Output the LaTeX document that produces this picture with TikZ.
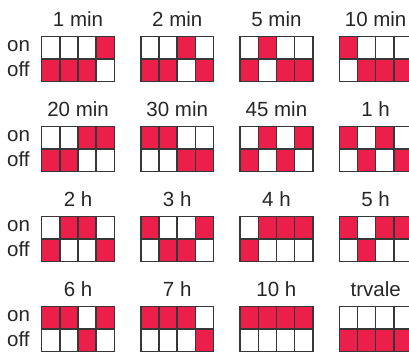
\documentclass[tikz,border=0pt]{standalone}
\usepackage{fontspec}
\setmainfont{Liberation Sans}
\definecolor{sw}{RGB}{236,30,74}
\definecolor{edge}{RGB}{55,55,55}
\begin{document}
\begin{tikzpicture}[x=1pt,y=-1pt,
  cellbox/.style={draw=edge,line width=1.5pt},
  title/.style={font=\fontsize{20.5}{22}\selectfont,anchor=base,inner sep=0pt,text=black!85},
  side/.style={font=\fontsize{20.5}{22}\selectfont,anchor=base west,inner sep=0pt,text=black!85}]
\useasboundingbox (0,0) rectangle (409,351);
\clip (0,0) rectangle (409,351);
\def\cw{18.17}\def\ch{22.5}
\foreach \col/\row/\lab/\pat [count=\k] in {
  0/0/{1 min}/{0,0,0,1}, 1/0/{2 min}/{0,0,1,0}, 2/0/{5 min}/{0,1,0,0}, 3/0/{10 min}/{1,0,0,0},
  0/1/{20 min}/{0,0,1,1}, 1/1/{30 min}/{1,1,0,0}, 2/1/{45 min}/{0,1,0,1}, 3/1/{1 h}/{1,0,1,0},
  0/2/{2 h}/{0,1,1,0}, 1/2/{3 h}/{1,0,0,1}, 2/2/{4 h}/{0,1,1,1}, 3/2/{5 h}/{1,0,1,1},
  0/3/{6 h}/{1,1,0,1}, 1/3/{7 h}/{1,1,1,0}, 2/3/{10 h}/{1,1,1,1}, 3/3/{trvale}/{0,0,0,0}}{
  \pgfmathsetmacro\L{41.7+\col*99.2}
  \pgfmathsetmacro\T{36.7+\row*90}
  \foreach \b [count=\i from 0] in \pat {
    \ifnum\b=1 \def\ca{sw}\def\cb{white}\else\def\ca{white}\def\cb{sw}\fi
    \draw[cellbox,fill=\ca] ({\L+\i*\cw},\T) rectangle ++(\cw,\ch);
    \draw[cellbox,fill=\cb] ({\L+\i*\cw},{\T+\ch}) rectangle ++(\cw,\ch);
  }
  \node[title] (t\k) at ({\L+2*\cw},{\T-10}) {\lab};
  \ifnum\col=0
    \node[side] (on\k) at (7,{\T+14.3}) {on};
    \node[side] (off\k) at (7,{\T+40}) {off};
  \fi
}
\end{tikzpicture}
\end{document}
